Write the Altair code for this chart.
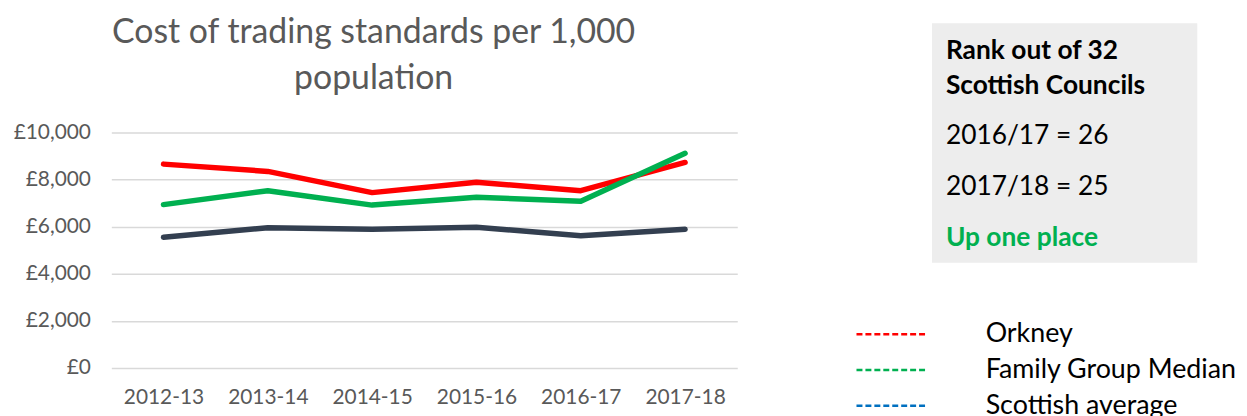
import altair as alt
import pandas as pd

# ---- data ----
years = ["2012-13", "2013-14", "2014-15", "2015-16", "2016-17", "2017-18"]
orkney = [8660, 8350, 7450, 7890, 7530, 8730]
family_median = [6940, 7530, 6920, 7250, 7080, 9120]
scottish_avg = [5550, 5960, 5890, 5980, 5620, 5890]

series_names = ["Orkney", "Family Group Median", "Scottish average"]
line_colours = ["#FF0000", "#00B050", "#333F50"]
legend_colours = ["#FF0000", "#00B050", "#0070C0"]

title_lines = ["Cost of trading standards per 1,000", "population"]
box_heading = ["Rank out of 32", "Scottish Councils"]
box_lines = ["2016/17 = 26", "2017/18 = 25"]
box_result = "Up one place"

FONT = "Lato"
GREY = "#595959"

rows = []
for name, vals in zip(series_names, [orkney, family_median, scottish_avg]):
    for yr, v in zip(years, vals):
        rows.append({"year": yr, "series": name, "value": v})
df = pd.DataFrame(rows)

lines = alt.Chart(df).mark_line(strokeWidth=5.5, strokeCap="round", strokeJoin="round").encode(
    x=alt.X("year:N", sort=years, title=None,
            scale=alt.Scale(paddingInner=0, paddingOuter=0.5),
            axis=alt.Axis(labelAngle=0, labelFontSize=21, labelColor=GREY, labelFont=FONT,
                          ticks=False, domain=False, labelPadding=19, grid=False)),
    y=alt.Y("value:Q", title=None,
            scale=alt.Scale(domain=[0, 10000], nice=False),
            axis=alt.Axis(values=[0, 2000, 4000, 6000, 8000, 10000],
                          labelExpr="'£' + format(datum.value, ',')",
                          labelFontSize=21, labelColor=GREY, labelFont=FONT,
                          ticks=False, domain=False, labelPadding=21,
                          grid=True, gridColor="#D9D9D9", gridWidth=1.5)),
    color=alt.Color("series:N", sort=series_names,
                    scale=alt.Scale(domain=series_names, range=line_colours), legend=None),
)

layers = [lines]

# chart title (two lines) as text marks
for txt, yy in zip(title_lines, [-100, -54]):
    layers.append(
        alt.Chart(pd.DataFrame({"label": [txt]})).mark_text(
            align="center", baseline="middle", fontSize=34, font=FONT, fontWeight="normal", color=GREY
        ).encode(text="label:N", x=alt.value(264), y=alt.value(yy))
    )

# grey information box
box = alt.Chart(pd.DataFrame({"k": [0]})).mark_rect(color="#EDEDED").encode(
    x=alt.value(826), x2=alt.value(1093), y=alt.value(-110), y2=alt.value(131))
layers.append(box)

box_y = [-82, -47, 4, 55, 106]
texts = [(box_heading[0], "bold", "black"), (box_heading[1], "bold", "black"),
         (box_lines[0], "normal", "black"), (box_lines[1], "normal", "black"),
         (box_result, "bold", "#00B050")]
for (txt, weight, col), yy in zip(texts, box_y):
    layers.append(
        alt.Chart(pd.DataFrame({"label": [txt]})).mark_text(
            align="left", baseline="middle", fontSize=26.5, font=FONT, fontWeight=weight, color=col
        ).encode(text="label:N", x=alt.value(840), y=alt.value(yy))
    )

# legend drawn as dashed rules with labels
for i, (name, col) in enumerate(zip(series_names, legend_colours)):
    yy = 203 + i * 36
    layers.append(
        alt.Chart(pd.DataFrame({"label": [name]})).mark_rule(
            color=col, strokeWidth=2.5, strokeDash=[6, 3]
        ).encode(x=alt.value(750), x2=alt.value(820), y=alt.value(yy))
    )
    layers.append(
        alt.Chart(pd.DataFrame({"label": [name]})).mark_text(
            align="left", baseline="middle", fontSize=27, font=FONT, color="black"
        ).encode(text="label:N", x=alt.value(880), y=alt.value(yy))
    )

chart = alt.layer(*layers).properties(
    width=630, height=237,
    autosize=alt.AutoSizeParams(type="none"),
    padding={"left": 104, "top": 124, "right": 505, "bottom": 60},
).configure(background="white").configure_view(stroke=None)

chart.save("out.html", embed_options={"renderer": "svg", "actions": False})
